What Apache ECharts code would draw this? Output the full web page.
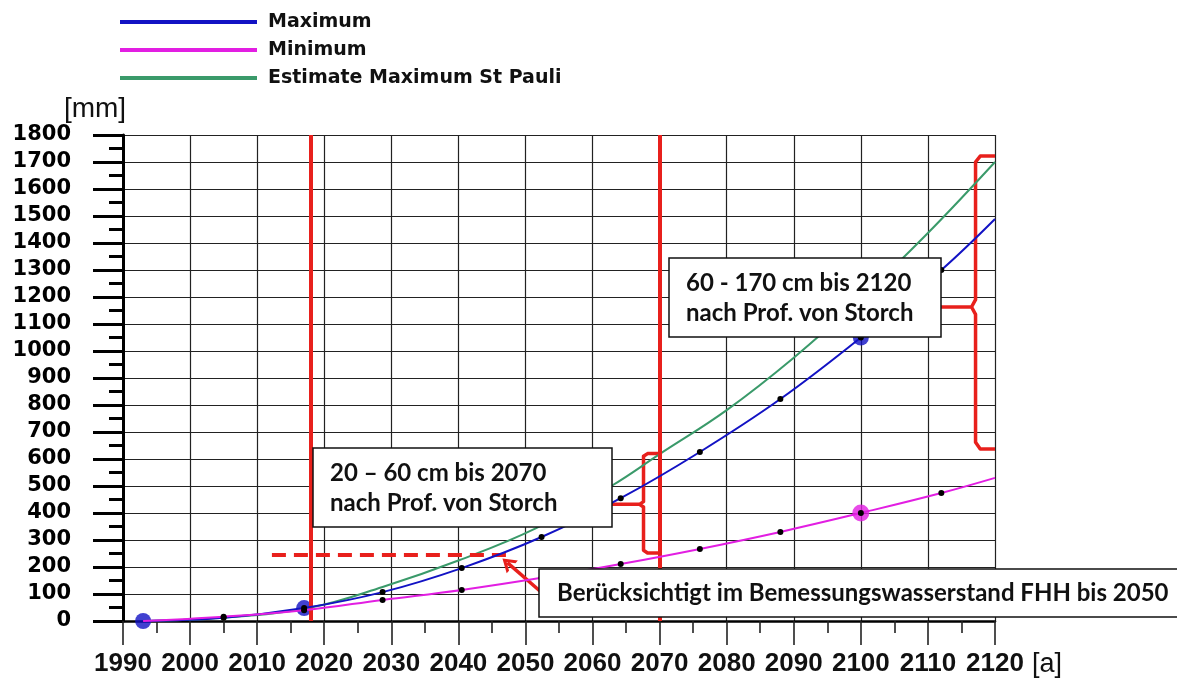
<!DOCTYPE html>
<html>
<head>
<meta charset="utf-8">
<script src="https://cdn.jsdelivr.net/npm/echarts@6/dist/echarts.min.js"></script>
<style>
  html, body { margin: 0; padding: 0; background: #fff; }
  #chart { width: 1177px; height: 683px; }
</style>
</head>
<body>
<div id="chart"></div>
<script>
// Sea level rise projections, Hamburg: millimetres above the 1993 level.
const years   = [1993, 2005, 2017, 2028.7, 2040.5, 2052.4, 2064.2, 2076, 2088, 2100, 2112, 2120];
const maximum = [0, 12, 48, 107, 196, 311, 455, 626, 822, 1050, 1300, 1489];
const minimum = [0, 16, 40, 78, 115, 160, 211, 267, 330, 400, 474, 530];

const stPauliYears = [1993, 2005, 2018, 2028.7, 2040.2, 2051.6, 2062.8, 2070, 2080, 2090, 2100, 2110, 2120];
const stPauli      = [0, 12, 50, 126, 226, 344, 500, 618, 781, 975, 1195, 1437, 1700];

// indices of the highlighted points
const maxHighlight = [0, 2, 9];
const minHighlight = [9];

// reference years (vertical red lines)
const horizonYears = [2018, 2070];

// design water level FHH until 2050 (dashed line) and its pointer
const designSpan = [2012.2, 2048];
const designMm = 245;
const pointer = [[2052.2, 110], [2047.3, 216]];

// brackets for the von Storch ranges [year, mm]
const brace2070 = [[2069.8, 620], [2068.2, 620], [2067.6, 610], [2067.6, 442], [2067.0, 432], [2062.8, 432],
                   [2067.0, 432], [2067.6, 422], [2067.6, 262], [2068.2, 252], [2069.8, 252]];
const brace2120 = [[2120, 1722], [2117.8, 1722], [2117.1, 1700], [2117.1, 1190], [2116.5, 1163], [2111.4, 1163],
                   [2116.5, 1163], [2117.1, 1136], [2117.1, 662], [2117.8, 637], [2120, 637]];

const xRange = [1990, 2120];
const yRange = [0, 1800];

const BLUE = '#1212c4';
const PINK = '#e21ee2';
const GREEN = '#3a9a6a';
const RED = '#e8201c';

function lineData(xs, ys, dotted) {
  return xs.map((x, i) => {
    const item = { value: [x, ys[i]] };
    if (dotted && i > 0 && i < xs.length - 1) {
      item.itemStyle = { color: '#000', borderWidth: 0 };
      item.symbol = 'circle';
      item.symbolSize = 6;
    } else {
      item.symbol = 'none';
    }
    return item;
  });
}

const chart = echarts.init(document.getElementById('chart'));

chart.setOption({
  animation: false,
  backgroundColor: '#fff',
  grid: { left: 123, right: 182, top: 135, bottom: 62, containLabel: false },
  legend: {
    orient: 'vertical',
    left: 115,
    top: 7,
    itemWidth: 137,
    itemHeight: 4,
    itemGap: 8,
    icon: 'rect',
    selectedMode: false,
    data: ['Maximum', 'Minimum', 'Estimate Maximum St Pauli'],
    textStyle: {
      fontFamily: 'DejaVu Sans', fontWeight: 'bold', fontSize: 19, lineHeight: 20, color: '#111',
      padding: [0, 0, 0, 6]
    }
  },
  xAxis: {
    type: 'value',
    min: xRange[0], max: xRange[1], interval: 10,
    name: '[a]',
    nameLocation: 'end',
    nameGap: 37,
    nameTextStyle: {
      fontFamily: 'Liberation Sans', fontSize: 27, color: '#111',
      verticalAlign: 'top', align: 'left', padding: [30, 0, 0, 0]
    },
    axisLine: { show: true, onZero: false, lineStyle: { color: '#000', width: 2.5 } },
    axisTick: { show: true, length: 24, lineStyle: { color: '#222', width: 1.6 } },
    minorTick: { show: true, splitNumber: 2, length: 12, lineStyle: { color: '#222', width: 1.6 } },
    axisLabel: {
      margin: 30,
      fontFamily: 'Liberation Sans', fontWeight: 'bold', fontSize: 26, color: '#111',
      formatter: v => String(v)
    },
    splitLine: { show: true, lineStyle: { color: '#222', width: 1.2 } }
  },
  yAxis: {
    type: 'value',
    min: yRange[0], max: yRange[1], interval: 100,
    name: '[mm]',
    nameLocation: 'end',
    nameGap: 12,
    nameTextStyle: {
      fontFamily: 'Liberation Sans', fontSize: 28, color: '#111',
      align: 'center', padding: [0, 56, 0, 0]
    },
    axisLine: { show: true, onZero: false, lineStyle: { color: '#000', width: 3 } },
    axisTick: { show: true, length: 30, lineStyle: { color: '#000', width: 3 } },
    minorTick: { show: true, splitNumber: 2, length: 14, lineStyle: { color: '#000', width: 3 } },
    axisLabel: {
      margin: 52,
      fontFamily: 'DejaVu Sans', fontWeight: 'bold', fontSize: 21, color: '#000',
      formatter: v => String(v)
    },
    splitLine: { show: true, lineStyle: { color: '#222', width: 1.2 } }
  },
  series: [
    {
      // reference years, design level and pointer
      name: 'annotations',
      type: 'line',
      data: [],
      silent: true,
      markLine: {
        silent: true,
        symbol: ['none', 'none'],
        label: { show: false },
        lineStyle: { color: RED, width: 4, type: 'solid' },
        data: [
          ...horizonYears.map(y => ({ xAxis: y })),
          [
            { coord: [designSpan[0], designMm], lineStyle: { type: [14, 8], width: 4, color: RED } },
            { coord: [designSpan[1], designMm] }
          ],
          [
            { coord: pointer[0], symbol: 'none', lineStyle: { width: 3.5, color: RED } },
            { coord: pointer[1], symbol: 'path://M0,12 L8,0 L16,12 L12.6,12 L8,5.2 L3.4,12 Z', symbolSize: [17, 13] }
          ]
        ]
      }
    },
    {
      name: 'brace2070',
      type: 'line',
      data: brace2070,
      symbol: 'none',
      clip: false,
      silent: true,
      lineStyle: { color: RED, width: 3.5, join: 'round' },
      z: 3
    },
    {
      name: 'brace2120',
      type: 'line',
      data: brace2120,
      symbol: 'none',
      clip: false,
      silent: true,
      lineStyle: { color: RED, width: 3.5, join: 'round' },
      z: 3
    },
    {
      name: 'highlightMax',
      type: 'scatter',
      data: maxHighlight.map(i => [years[i], maximum[i]]),
      symbolSize: 16,
      itemStyle: { color: BLUE },
      clip: false,
      silent: true,
      z: 2
    },
    {
      name: 'highlightMin',
      type: 'scatter',
      data: minHighlight.map(i => [years[i], minimum[i]]),
      symbolSize: 17,
      itemStyle: { color: PINK },
      clip: false,
      silent: true,
      z: 2
    },
    {
      name: 'Estimate Maximum St Pauli',
      type: 'line',
      data: lineData(stPauliYears, stPauli, false),
      smooth: 0.4,
      color: GREEN,
      lineStyle: { color: GREEN, width: 2 },
      z: 4
    },
    {
      name: 'Maximum',
      type: 'line',
      data: lineData(years, maximum, true),
      smooth: 0.4,
      color: BLUE,
      lineStyle: { color: BLUE, width: 2 },
      z: 5
    },
    {
      name: 'Minimum',
      type: 'line',
      data: lineData(years, minimum, true),
      smooth: 0.4,
      color: PINK,
      lineStyle: { color: PINK, width: 2 },
      z: 5
    }
  ],
  graphic: [
    {
      type: 'rect', z: 100,
      shape: { x: 313, y: 448, width: 299, height: 79 },
      style: { fill: '#fff', stroke: '#111', lineWidth: 1.5 }
    },
    {
      type: 'text', z: 101,
      style: {
        x: 330, y: 458, text: '20 – 60 cm bis 2070\nnach Prof. von Storch',
        fontFamily: 'Lato', fontWeight: 'bold', fontSize: 24, lineHeight: 30, fill: '#111'
      }
    },
    {
      type: 'rect', z: 100,
      shape: { x: 669, y: 258, width: 272, height: 79 },
      style: { fill: '#fff', stroke: '#111', lineWidth: 1.5 }
    },
    {
      type: 'text', z: 101,
      style: {
        x: 686, y: 268, text: '60 - 170 cm bis 2120\nnach Prof. von Storch',
        fontFamily: 'Lato', fontWeight: 'bold', fontSize: 24, lineHeight: 30, fill: '#111'
      }
    },
    {
      type: 'rect', z: 100,
      shape: { x: 539, y: 569, width: 660, height: 48 },
      style: { fill: '#fff', stroke: '#111', lineWidth: 1.5 }
    },
    {
      type: 'text', z: 101,
      style: {
        x: 557, y: 578, text: 'Berücksichtigt im Bemessungswasserstand FHH bis 2050',
        fontFamily: 'Lato', fontWeight: 'bold', fontSize: 24, lineHeight: 30, fill: '#111'
      }
    }
  ]
});
</script>
</body>
</html>
